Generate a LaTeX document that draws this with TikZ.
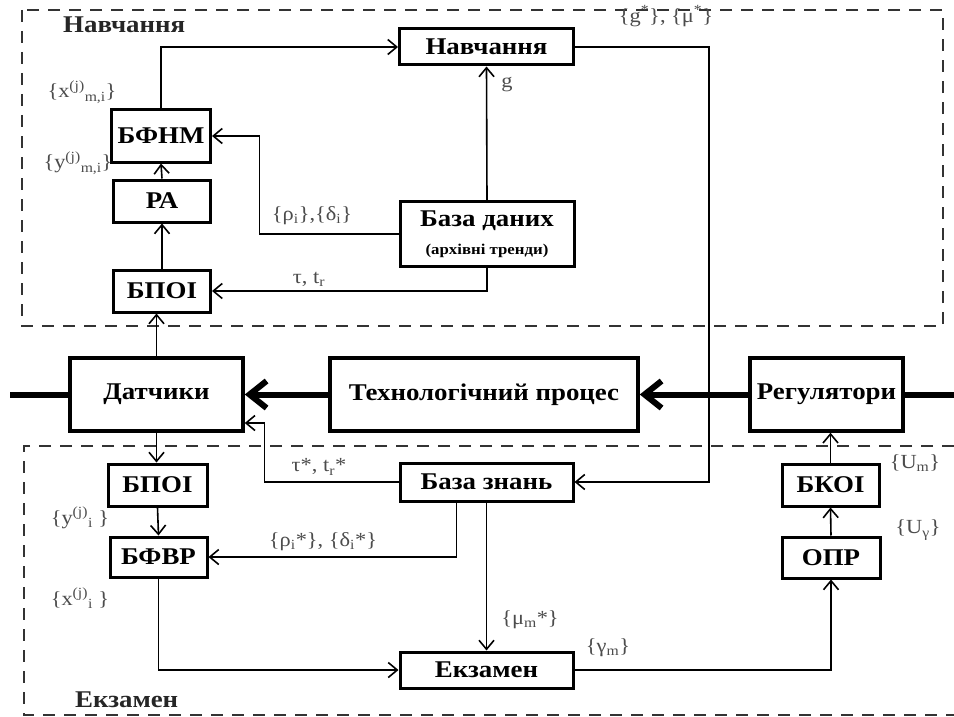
\documentclass[tikz,border=0pt]{standalone}
\usepackage{fontspec}
\setmainfont{Liberation Serif}[FakeStretch=1.12]
\usetikzlibrary{arrows.meta, positioning}

\begin{document}
\begin{tikzpicture}[
    x=1pt, y=-1pt,
    block/.style={rectangle, draw, line width=3pt, fill=white, align=center, inner sep=0pt, font=\fontsize{24}{26}\selectfont\bfseries},
    big_block/.style={block, line width=3.5pt, minimum width=#1, minimum height=73pt},
    arrow/.style={-{Straight Barb[length=9pt, width=15pt]}, line width=1.6pt},
    link/.style={line width=1.6pt},
    main_arrow/.style={-{Straight Barb[length=17pt, width=27pt]}, line width=6pt},
    main_link/.style={line width=6pt},
    frame/.style={dash pattern=on 12pt off 9pt, line width=1.6pt, black!80},
    lbl/.style={font=\fontsize{20}{22}\selectfont, text=black!70, inner sep=1pt},
    title/.style={font=\fontsize{24}{26}\selectfont\bfseries, text=black!85, anchor=west, inner sep=0pt}
]
    \useasboundingbox (0,0) rectangle (954,717);

    % Frames
    \draw[frame] (22,10) rectangle (943,326);
    \draw[frame] (954,446) -- (24,446) -- (24,715) -- (954,715);
    \node[title] (title_learn) at (63,25) {Навчання};
    \node[title] (title_exam) at (75,700) {Екзамен};

    % Learning part
    \node[block, minimum width=174pt, minimum height=36pt] (learn) at (486.5,47) {Навчання};
    \node[block, minimum width=99pt, minimum height=52pt] (bfnm) at (161,136) {БФНМ};
    \node[block, minimum width=97pt, minimum height=42pt] (ra) at (162,201) {РА};
    \node[block, minimum width=97pt, minimum height=42pt] (bpoi_top) at (162,291) {БПОІ};
    \node[block, minimum width=174pt, minimum height=65pt] (database) at (487,234) {База даних\\[2pt]{\fontsize{15}{17}\selectfont(архівні тренди)}};

    % Process line
    \node[big_block=173pt] (sensors) at (156.5,394.5) {Датчики};
    \node[big_block=308pt] (process) at (484,394.5) {Технологічний процес};
    \node[big_block=153pt] (regulators) at (826.5,394.5) {Регулятори};
    \coordinate (line_in) at (10,394.5);
    \coordinate (line_out) at (954,394.5);

    % Exam part
    \node[block, minimum width=99pt, minimum height=42pt] (bpoi_bot) at (157.5,485) {БПОІ};
    \node[block, minimum width=97pt, minimum height=40pt] (bfvr) at (158.5,557) {БФВР};
    \node[block, minimum width=173pt, minimum height=38pt] (knowledge) at (486.5,482) {База знань};
    \node[block, minimum width=173pt, minimum height=36pt] (exam) at (486.5,670) {Екзамен};
    \node[block, minimum width=97pt, minimum height=42pt] (bkoi) at (830.5,485) {БКОІ};
    \node[block, minimum width=98pt, minimum height=41pt] (opr) at (831,557.5) {ОПР};

    % Thick process flow
    \draw[main_link] (line_in) -- (sensors.west);
    \draw[main_arrow] (process.west) -- (sensors.east);
    \draw[main_arrow] (regulators.west) -- (process.east);
    \draw[main_link] (regulators.east) -- (line_out);

    % Learning connectors
    \draw[arrow] (bfnm.north) |- (learn.west);
    \draw[arrow] (database.north) -- (learn.south);
    \draw[arrow] (learn.east) -- ++(134,0) |- (knowledge.east);
    \draw[arrow] (database.west) -- ++(-139,0) |- (bfnm.east);
    \draw[arrow] (database.south) |- (bpoi_top.east);
    \draw[arrow] (ra.north) -- (bfnm.south);
    \draw[arrow] (bpoi_top.north) -- (ra.south);
    \draw[arrow] (sensors.north) -- (sensors.north |- bpoi_top.south);

    % Exam connectors
    \draw[arrow] (sensors.south) -- (sensors.south |- bpoi_bot.north);
    \draw[arrow] (bpoi_bot.south) -- (bfvr.north);
    \draw[arrow] (bfvr.south) |- (exam.west);
    \draw[arrow] (knowledge.west) -- ++(-134,0) |- ([yshift=-28.5pt]sensors.east);
    \draw[arrow] ([xshift=-30pt]knowledge.south) |- (bfvr.east);
    \draw[arrow] (knowledge.south) -- (exam.north);
    \draw[arrow] (exam.east) -| (opr.south);
    \draw[arrow] (opr.north) -- (bkoi.south);
    \draw[arrow] (bkoi.north) -- (bkoi.north |- regulators.south);

    % Labels
    \node[lbl] (l_gmu) at (666,16) {\{g\textsuperscript{*}\}, \{μ\textsuperscript{*}\}};
    \node[lbl] (l_g) at (507,85) {g};
    \node[lbl] (l_xmi) at (82,92) {\{x\textsuperscript{(j)}\textsubscript{m,i}\}};
    \node[lbl] (l_ymi) at (78,163) {\{y\textsuperscript{(j)}\textsubscript{m,i}\}};
    \node[lbl] (l_rd) at (312,216) {\{ρ\textsubscript{i}\},\{δ\textsubscript{i}\}};
    \node[lbl] (l_tau) at (309,279) {τ, t\textsubscript{r}};
    \node[lbl] (l_tau_s) at (319,467) {τ*, t\textsubscript{r}*};
    \node[lbl] (l_yi) at (80,518) {\{y\textsuperscript{(j)}\textsubscript{i} \}};
    \node[lbl] (l_rd_s) at (323,542) {\{ρ\textsubscript{i}*\}, \{δ\textsubscript{i}*\}};
    \node[lbl] (l_xi) at (80,598) {\{x\textsuperscript{(j)}\textsubscript{i} \}};
    \node[lbl] (l_mu) at (530,620) {\{μ\textsubscript{m}*\}};
    \node[lbl] (l_gamma) at (608,648) {\{γ\textsubscript{m}\}};
    \node[lbl] (l_um) at (915,463) {\{U\textsubscript{m}\}};
    \node[lbl] (l_ug) at (918,530) {\{U\textsubscript{γ}\}};

\end{tikzpicture}
\end{document}
